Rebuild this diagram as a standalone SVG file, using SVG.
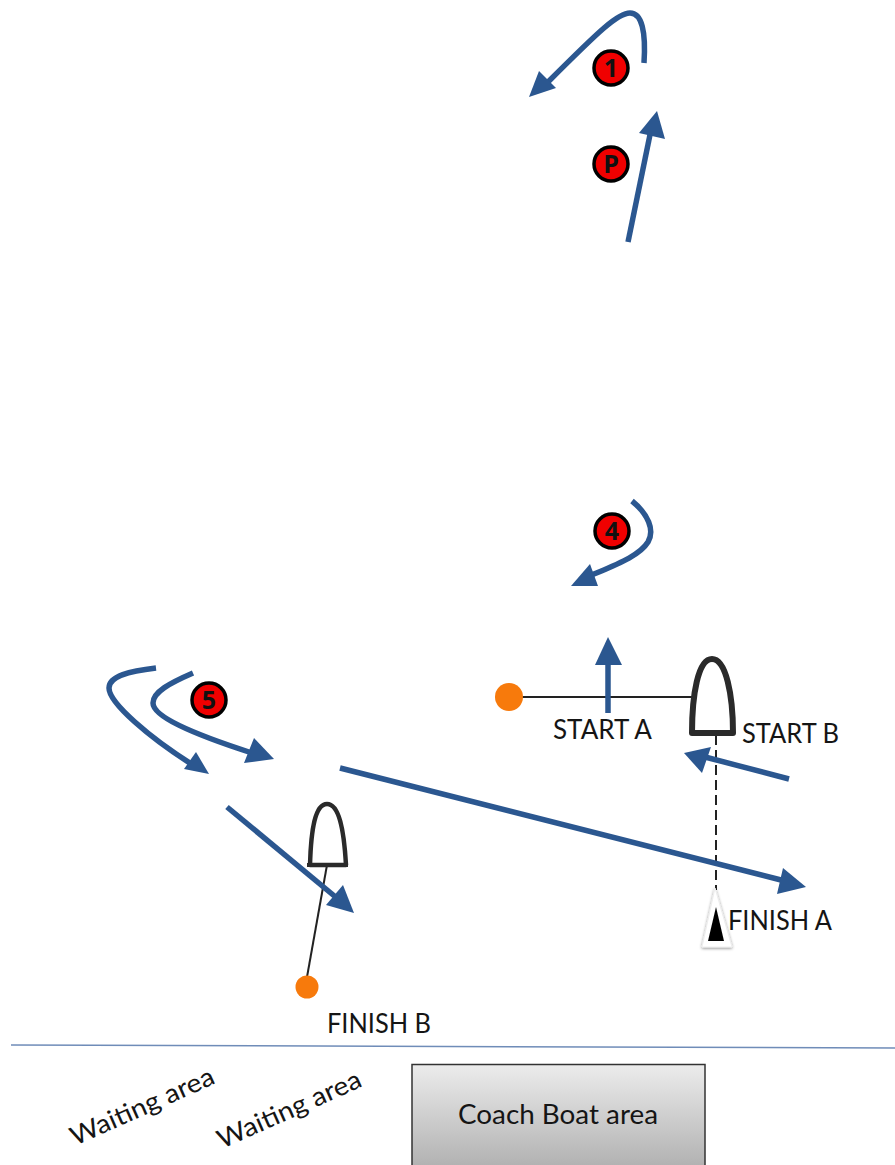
<svg xmlns="http://www.w3.org/2000/svg" width="895" height="1165" viewBox="0 0 895 1165">
<style>
.arrow{fill:none;stroke:#2b5790;stroke-width:5.500}
.head{fill:#2b5790}
.badge circle{fill:#f00000;stroke:#000;stroke-width:3.500}
.badge text{font:bold 25px "Open Sans","Liberation Sans",sans-serif;fill:#111;text-anchor:middle}
.label{font-family:Lato,"Open Sans","Liberation Sans",sans-serif;font-size:26px;fill:#151515}
.boat{fill:#fff;stroke:#2a2a2a;stroke-linejoin:round}
.buoy{fill:#f77a0c}
.rope{stroke:#222;fill:none}
</style>
<defs>
<linearGradient id="grey" x1="0" y1="0" x2="0" y2="1"><stop offset="0" stop-color="#ececec"/><stop offset="1" stop-color="#adadad"/></linearGradient>
<filter id="soft" x="-30%" y="-30%" width="160%" height="160%"><feDropShadow dx="0" dy="1" stdDeviation="1.500" flood-color="#000" flood-opacity=".45"/></filter>
</defs>
<g id="connectors">
<line class="rope" x1="520" y1="697" x2="693" y2="697" stroke-width="2"/>
<line class="rope" x1="716" y1="735" x2="716" y2="890" stroke-width="2" stroke-dasharray="10 5"/>
<line class="rope" x1="327" y1="865" x2="307" y2="977" stroke-width="2"/>
<path class="arrow" d="M644 63C646 32 642 13 630 13C618 13 600 30 548 82"/>
<polygon class="head" points="529,97 539,71 556,88"/>
<path class="arrow" d="M628 242L652 125"/>
<polygon class="head" points="657,111 639,133 665,139"/>
<path class="arrow" d="M632 501C648 514 655 530 648 542C640 555 620 563 592 575"/>
<polygon class="head" points="571,586 590,564 598,586"/>
<path class="arrow" d="M608 713V660"/>
<polygon class="head" points="608,637 595,665 622,665"/>
<path class="arrow" d="M789 779L705 757"/>
<polygon class="head" points="684,753 711,747 702,773"/>
<path class="arrow" d="M156 668C130 671 109 676 109 688C109 703 150 738 193 765"/>
<polygon class="head" points="209,774 196,752 184,769"/>
<path class="arrow" d="M193 673C170 683 153 692 153 703C153 716 190 733 252 753"/>
<polygon class="head" points="274,759 254,738 244,763"/>
<path class="arrow" d="M340 768L785 881"/>
<polygon class="head" points="806,887 783,868 777,894"/>
<path class="arrow" d="M227 807L338 899"/>
<polygon class="head" points="354,913 343,885 326,905"/>
</g>
<g id="badge-1" class="badge"><circle cx="611" cy="68" r="17"/><text x="611" y="77">1</text></g>
<g id="badge-p" class="badge"><circle cx="611" cy="164" r="17"/><text x="611" y="173">P</text></g>
<g id="badge-4" class="badge"><circle cx="612" cy="531" r="17"/><text x="612" y="540">4</text></g>
<g id="badge-5" class="badge"><circle cx="209" cy="700" r="17"/><text x="209" y="709">5</text></g>
<g id="buoy-start"><circle class="buoy" cx="509" cy="697" r="14"/></g>
<g id="boat-start"><path class="boat" stroke-width="6" d="M692 733C692 695 698 659 712 659C726 659 733 695 733 733Z"/></g>
<g id="boat-finish"><path class="boat" stroke-width="4.500" d="M310 865C311 830 315 804 327 804C339 804 344 830 346 865Z"/><line x1="307" y1="865" x2="348" y2="865" stroke="#2a2a2a" stroke-width="4"/></g>
<g id="buoy-finish"><circle class="buoy" cx="307" cy="987" r="11.500"/></g>
<g id="mark-finish"><polygon points="715,888 702,947 732,947" fill="#fff" stroke="#eee" stroke-width="1" filter="url(#soft)"/><polygon points="716,907 708,941 724,941" fill="#000"/></g>
<g id="labels">
<text class="label" x="553" y="739" textLength="99" lengthAdjust="spacingAndGlyphs">START A</text>
<text class="label" x="742" y="743" textLength="97" lengthAdjust="spacingAndGlyphs">START B</text>
<text class="label" x="728" y="930" textLength="104" lengthAdjust="spacingAndGlyphs">FINISH A</text>
<text class="label" x="327" y="1033" textLength="104" lengthAdjust="spacingAndGlyphs">FINISH B</text>
<text class="label" transform="translate(75,1146) rotate(-24)" textLength="155" lengthAdjust="spacingAndGlyphs">Waiting area</text>
<text class="label" transform="translate(222,1149) rotate(-24)" textLength="155" lengthAdjust="spacingAndGlyphs">Waiting area</text>
</g>
<g id="divider"><line x1="11" y1="1045" x2="895" y2="1048" stroke="#6f8cb8" stroke-width="1.500"/></g>
<g id="coach-boat-area"><rect x="412" y="1064.500" width="293" height="110" fill="url(#grey)" stroke="#333" stroke-width="1.500"/><text class="label" x="458" y="1124" textLength="200" lengthAdjust="spacingAndGlyphs">Coach Boat area</text></g>
</svg>
